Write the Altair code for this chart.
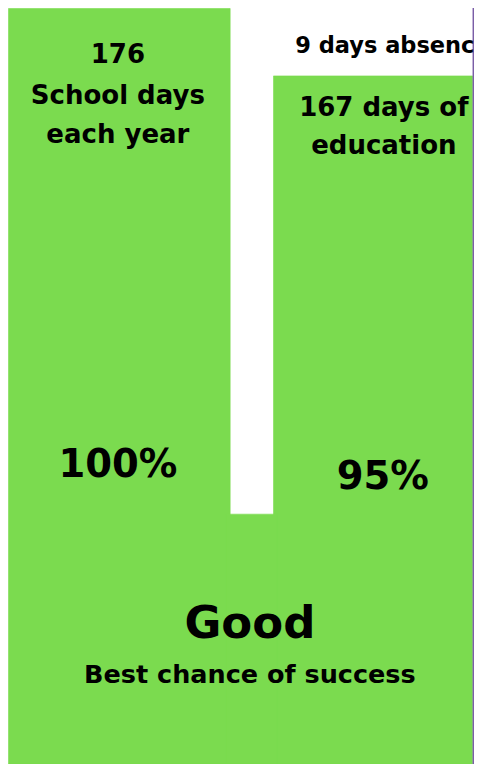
import altair as alt
import pandas as pd

# ---- content ----
labels = ["176", "School days", "each year", "167 days of", "education",
          "100%", "95%", "Good", "Best chance of success"]
note_label = ["9 days absence"]

# ---- layout, in the reference picture's own units ----
X_DOM = [8.5, 481.5]
Y_DOM = [9.5, 772]
W, H = 466, 756

blk_x0 = [9, 278, 230]
blk_x1 = [234, 480, 282]
blk_y0 = [10, 78, 520]
blk_y1 = [772, 772, 772]

lab_x = [120, 120, 120, 390, 390, 120, 389, 254, 254]
lab_y = [65, 106, 146, 118, 157, 483, 495, 645, 690]
lab_fs = [26, 26, 26, 26, 26, 38.5, 38.5, 45, 25.5]

note_x = [300]
note_y = [55]
note_fs = [22.5]

GREEN = "#7BDB4F"

blocks = pd.DataFrame({"x0": blk_x0, "x1": blk_x1, "y0": blk_y0, "y1": blk_y1})
texts = pd.DataFrame({"t": labels, "x": lab_x, "y": lab_y, "fs": lab_fs})
notes = pd.DataFrame({"t": note_label, "x": note_x, "y": note_y, "fs": note_fs})
edge = pd.DataFrame({"x": [480.8], "y0": [Y_DOM[0]], "y1": [Y_DOM[1]]})

xs = alt.Scale(domain=X_DOM, nice=False, zero=False)
ys = alt.Scale(domain=Y_DOM, nice=False, zero=False, reverse=True)

rects = alt.Chart(blocks).mark_rect(color=GREEN, stroke=GREEN, strokeWidth=0.6).encode(
    x=alt.X("x0:Q", scale=xs, axis=None),
    x2="x1:Q",
    y=alt.Y("y0:Q", scale=ys, axis=None),
    y2="y1:Q",
)

line = alt.Chart(edge).mark_rule(color="#7B5EA7", strokeWidth=1.5).encode(
    x=alt.X("x:Q", scale=xs, axis=None),
    y=alt.Y("y0:Q", scale=ys, axis=None),
    y2="y1:Q",
)

center_txt = alt.Chart(texts).mark_text(
    font="DejaVu Sans", fontWeight="bold", color="#000000",
    align="center", baseline="alphabetic",
).encode(
    x=alt.X("x:Q", scale=xs, axis=None),
    y=alt.Y("y:Q", scale=ys, axis=None),
    text="t:N",
    size=alt.Size("fs:Q", scale=None, legend=None),
)

note_txt = alt.Chart(notes).mark_text(
    font="DejaVu Sans", fontWeight="bold", color="#000000",
    align="left", baseline="alphabetic",
).encode(
    x=alt.X("x:Q", scale=xs, axis=None),
    y=alt.Y("y:Q", scale=ys, axis=None),
    text="t:N",
    size=alt.Size("fs:Q", scale=None, legend=None),
)

chart = alt.layer(rects, line, center_txt, note_txt).properties(
    width=W, height=H, padding=0, autosize=alt.AutoSizeParams(type="none"),
    background="#ffffff",
).configure_view(stroke=None)

chart.save("out.html", embed_options={"renderer": "svg", "actions": False})
